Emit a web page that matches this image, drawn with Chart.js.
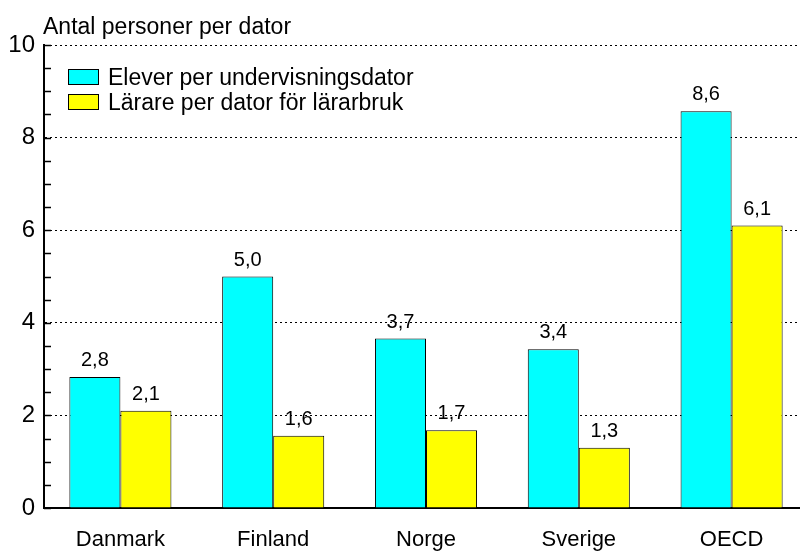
<!DOCTYPE html>
<html>
<head>
<meta charset="utf-8">
<script src="https://cdn.jsdelivr.net/npm/chart.js@4"></script>
<style>
  html, body { margin: 0; padding: 0; background: #fff; overflow: hidden; }
  #wrap { width: 808px; height: 551px; }
</style>
</head>
<body>
<div id="wrap"><canvas id="chart" width="808" height="551"></canvas></div>
<script>
const categories = ['Danmark', 'Finland', 'Norge', 'Sverige', 'OECD'];
const seriesNames = ['Elever per undervisningsdator', 'Lärare per dator för lärarbruk'];
const elever = [2.83, 5.0, 3.66, 3.43, 8.57];
const larare = [2.1, 1.56, 1.68, 1.3, 6.1];
const yTicks = [0, 2, 4, 6, 8, 10];
const yTitle = 'Antal personer per dator';

const FONT = 'Arial, "Liberation Sans", sans-serif';
const fmt = v => v.toFixed(1).replace('.', ',');

// title, legend inside the plot, value labels and small inner ticks
const extras = {
  id: 'extras',
  afterDraw(chart) {
    const ctx = chart.ctx;
    const area = chart.chartArea;
    const y = chart.scales.y;
    ctx.save();

    // minor ticks every 0.5 on the inside of the y axis
    ctx.strokeStyle = '#000';
    ctx.lineWidth = 1.5;
    for (let v = y.min; v <= y.max; v += 0.5) {
      const py = Math.round(y.getPixelForValue(v)) + 0.5;
      ctx.beginPath();
      ctx.moveTo(area.left, py);
      ctx.lineTo(area.left + 7, py);
      ctx.stroke();
    }

    // axis title
    ctx.fillStyle = '#000';
    ctx.font = '23px ' + FONT;
    ctx.textAlign = 'left';
    ctx.textBaseline = 'alphabetic';
    ctx.fillText(yTitle, 43, 34);

    // legend
    chart.data.datasets.forEach((ds, i) => {
      const bx = area.left + 24, by = area.top + 24 + i * 25;
      ctx.fillStyle = ds.backgroundColor;
      ctx.fillRect(bx, by, 30, 15);
      ctx.strokeStyle = '#000';
      ctx.lineWidth = 1;
      ctx.strokeRect(bx + 0.5, by + 0.5, 30, 15);
      ctx.fillStyle = '#000';
      ctx.textBaseline = 'alphabetic';
      ctx.fillText(ds.label, bx + 40, by + 16);
    });

    // value labels
    ctx.font = '20px ' + FONT;
    ctx.textAlign = 'center';
    ctx.textBaseline = 'alphabetic';
    chart.data.datasets.forEach((ds, i) => {
      chart.getDatasetMeta(i).data.forEach((bar, j) => {
        ctx.fillText(fmt(ds.data[j]), bar.x, bar.y - 11);
      });
    });
    ctx.restore();
  }
};

new Chart(document.getElementById('chart'), {
  type: 'bar',
  data: {
    labels: categories,
    datasets: [
      { label: seriesNames[0], data: elever, backgroundColor: '#00ffff', borderColor: '#000', borderWidth: 1 },
      { label: seriesNames[1], data: larare, backgroundColor: '#ffff00', borderColor: '#000', borderWidth: 1 }
    ]
  },
  options: {
    responsive: false,
    animation: false,
    events: [],
    layout: { padding: { top: 45, right: 0, left: 0, bottom: 0 } },
    datasets: { bar: { categoryPercentage: 0.668, barPercentage: 1 } },
    plugins: { legend: { display: false }, tooltip: { enabled: false } },
    scales: {
      x: {
        grid: { display: false, drawTicks: false },
        border: { display: true, color: '#000', width: 2 },
        ticks: { color: '#000', font: { family: FONT, size: 22 }, padding: 19 },
        afterFit(scale) { scale.height = 43; }
      },
      y: {
        min: 0,
        max: 10,
        afterBuildTicks(scale) { scale.ticks = yTicks.map(v => ({ value: v })); },
        grid: { color: '#000', lineWidth: 1, drawTicks: false },
        border: { display: true, color: '#000', width: 2, dash: [2, 3] },
        ticks: { color: '#000', font: { family: FONT, size: 24 }, padding: 9 },
        afterFit(scale) { scale.width = 44; }
      }
    }
  },
  plugins: [extras]
});
</script>
</body>
</html>
